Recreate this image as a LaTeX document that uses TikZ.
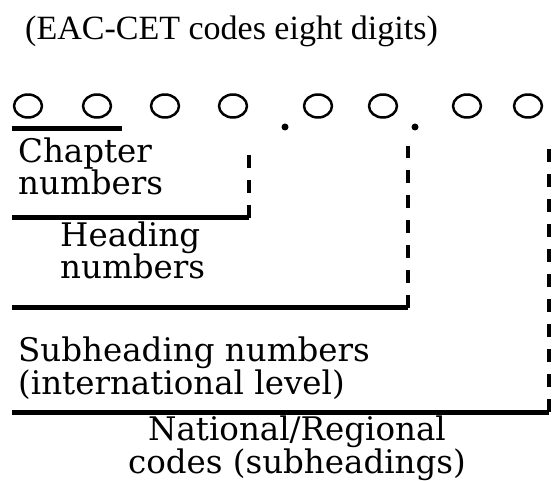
\documentclass[tikz,border=0pt]{standalone}
\usepackage{fontspec}
\setmainfont{DejaVu Serif}
\newfontfamily\titlefont{Liberation Serif}
\tikzset{
  bar/.style={line width=5pt},
  tick/.style={line width=3.5pt, dash pattern=on 13pt off 12pt},
  digit/.style={line width=2.5pt},
  lbl/.style={font=\fontsize{32.5}{31}\selectfont, align=left, inner sep=0pt, anchor=base west}
}
\begin{document}
\begin{tikzpicture}[x=1pt, y=-1pt, line join=round]
	\def\ytop{146} \def\ydig{106} \def\xl{12}
	\useasboundingbox (0,0) rectangle (552,481);
	\node[anchor=base west, inner sep=0pt, font=\titlefont\fontsize{34}{40}\selectfont] (title) at (25,40) {(EAC-CET codes eight digits)};
	% the eight digits
	\foreach \i/\x in {1/28,2/97,3/165,4/233,5/318,6/383,7/467,8/528}{
		\coordinate (d\i) at (\x,\ydig);
		\draw[digit] (d\i) circle[x radius=14, y radius=11.5];
	}
	\fill (285,127) circle[radius=3.5] (415,127) circle[radius=3.5];
	% brackets
	\coordinate (c1) at (249,218);
	\coordinate (c2) at (408,308);
	\coordinate (c3) at (549,412);
	\draw[bar] (\xl,129) -- (122,129);
	\draw[bar] (\xl,218) -- (c1);
	\draw[bar] (\xl,308) -- (c2);
	\draw[bar] (\xl,412) -- (c3);
	\draw[tick] (c1) -- (c1|-0,\ytop);
	\draw[tick] (c2) -- (c2|-0,\ytop);
	\draw[tick] (c3) -- (c3|-0,\ytop);
	% labels
	\node[lbl] (chap) at (18,195) {Chapter\\numbers};
	\node[lbl] (head) at (60,279) {Heading\\numbers};
	\node[lbl] (sub) at (18,394) {Subheading numbers\\(international level)};
	\node[lbl, align=center, anchor=base] (nat) at (297,473) {National/Regional\\codes (subheadings)};
\end{tikzpicture}
\end{document}
